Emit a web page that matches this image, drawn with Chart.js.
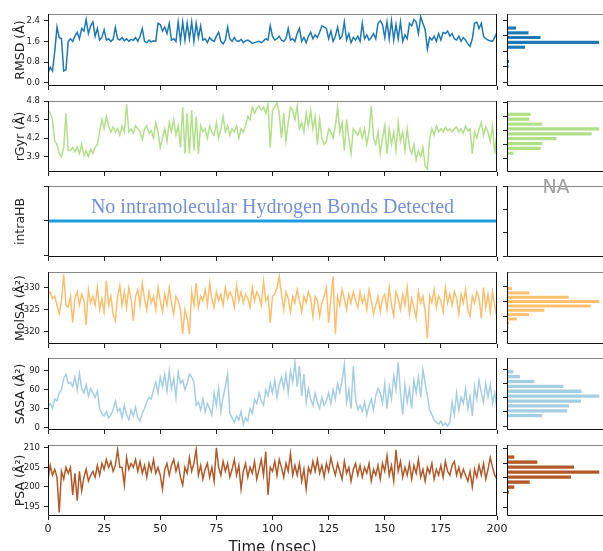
<!DOCTYPE html>
<html lang="en">
<head>
  <meta charset="UTF-8">
  <title>Trajectory analysis</title>
  <script src="https://cdn.jsdelivr.net/npm/chart.js"></script>
  <style>
    body { margin: 0; background: #ffffff; overflow: hidden; }
    #wrap { position: relative; width: 603px; height: 551px; overflow: hidden; }
    #wrap canvas { position: absolute; }
  </style>
</head>
<body>
<div id="wrap"></div>

<script>
  // time grid, one sample per ns
  const timeNs = Array.from({ length: 201 }, (_, i) => i);
  const timeTicks = [0, 25, 50, 75, 100, 125, 150, 175, 200];

  const rmsd = [0.35, 0.6, 0.45, 1.2, 2.15, 1.75, 1.7, 0.45, 0.5, 1.6,
    1.7, 1.6, 1.8, 1.95, 1.7, 2.1, 2.0, 2.45, 1.9, 2.2,
    2.35, 1.8, 2.1, 1.65, 1.75, 2.05, 1.65, 1.7, 1.6, 1.68,
    2.15, 1.7, 1.65, 1.75, 1.62, 1.7, 1.6, 1.68, 1.64, 1.75,
    1.6, 1.8, 2.1, 1.6, 1.55, 1.65, 1.58, 1.62, 1.6, 2.3,
    2.25, 2.0, 2.15, 1.9, 2.3, 1.65, 1.7, 1.6, 2.35, 1.6,
    2.35, 1.65, 2.3, 1.7, 2.35, 1.6, 2.3, 1.75, 2.2, 1.65,
    1.7, 1.55, 1.75, 1.65, 1.6, 1.8, 1.95, 1.6, 1.5, 1.65,
    2.15, 1.7, 1.6, 1.75, 1.62, 1.6, 1.68, 1.55, 1.62, 1.65,
    1.6, 1.52, 1.55, 1.58, 1.6, 1.55, 1.62, 1.7, 1.65, 2.2,
    1.8, 1.65, 1.7, 1.8, 1.65, 1.6, 1.7, 2.1, 1.65, 1.7,
    1.6, 1.9, 2.1, 1.6, 1.75, 1.55, 1.8, 1.95, 1.7, 1.85,
    1.75, 1.95, 2.2, 2.15, 2.1, 1.7, 2.0, 1.6, 1.8, 2.15,
    1.7, 1.8, 2.35, 1.65, 1.9, 1.55, 1.75, 1.65, 1.8, 1.6,
    2.3, 1.7, 1.85, 1.65, 1.75, 1.9, 1.7, 2.3, 2.4, 2.25,
    1.75, 2.35, 1.7, 2.4, 1.65, 2.25, 1.7, 2.35, 1.6, 1.85,
    1.7, 2.3, 2.2, 2.45, 2.35, 1.9, 2.55, 2.3, 2.05, 1.3,
    1.75, 1.65, 1.8, 1.6, 1.9, 1.65, 1.95, 1.9, 2.0, 1.8,
    1.9, 1.7, 1.65, 1.8, 1.6, 1.75, 1.65, 1.5, 1.4, 1.7,
    2.3, 2.35, 2.1, 2.3, 1.8, 1.7, 1.65, 1.62, 1.6, 1.75, 1.95];

  const rgyr = [4.65, 4.6, 4.5, 4.15, 4.1, 3.95, 3.9, 4.05, 4.6, 4.0,
    4.0, 4.05, 3.98, 4.05, 3.95, 4.1, 3.92, 4.0, 3.9, 4.02,
    3.95, 4.05, 4.1, 4.3, 4.5, 4.35, 4.55, 4.4, 4.3, 4.38,
    4.3, 4.35, 4.25, 4.4, 4.3, 4.75, 4.3, 4.35, 4.28, 4.4,
    4.35, 4.3, 4.18, 4.35, 4.4, 4.28, 4.32, 4.2, 4.45, 4.3,
    4.05, 4.2, 4.35, 4.15, 4.45, 4.3, 4.5, 4.25, 4.4, 4.05,
    4.7, 3.95, 4.6, 3.95, 4.65, 4.0, 4.55, 3.95, 4.4, 4.3,
    4.35, 4.2, 4.4, 4.3, 4.25, 4.45, 4.2, 4.35, 4.55, 4.3,
    4.4, 4.25, 4.35, 4.3, 4.4, 4.2, 4.35, 4.3, 4.4, 4.55,
    4.5, 4.7, 4.6, 4.68, 4.72, 4.65, 4.7, 4.6, 4.75, 4.05,
    4.65, 4.7, 4.78, 4.6, 4.2, 4.6, 4.15, 4.45, 4.7, 4.65,
    4.5, 4.72, 4.35, 4.45, 4.3, 4.6, 4.4, 4.65, 4.35, 4.55,
    4.1, 4.5, 4.2, 4.1, 4.15, 4.35, 4.3, 4.2, 4.4, 4.7,
    4.3, 4.45, 4.0, 4.5, 4.2, 3.95, 4.35, 4.3, 4.25, 4.35,
    4.2, 4.35, 4.1, 4.3, 4.72, 4.2, 4.1, 4.3, 3.95, 4.2,
    4.4, 3.95, 4.35, 4.1, 4.3, 4.0, 4.45, 4.15, 4.3, 4.0,
    4.35, 4.05, 3.95, 4.1, 3.85, 4.0, 3.9, 4.05, 3.75, 3.7,
    4.2, 4.35, 4.25, 4.4, 4.3, 4.35, 4.3, 4.38, 4.32, 4.35,
    4.3, 4.35, 4.38, 4.3, 4.35, 4.28, 4.4, 4.32, 4.35, 3.95,
    4.3, 4.2, 4.35, 4.45, 4.25, 4.38, 4.3, 4.15, 4.4, 3.95, 4.3];

  // no H-bonds at any frame
  const hbTime = [0, 200];
  const hbCount = [0, 0];

  const molsa = [328.5, 329, 327.5, 328, 326, 324, 327, 333, 326, 325.5,
    328, 322, 327.5, 329, 326, 328.5, 327, 321.5, 329.5, 326.5,
    328, 326, 330, 325, 327.5, 324.5, 331.5, 326, 328, 324,
    322.5, 328, 330.5, 326, 329, 325.5, 330, 327.5, 322.5, 328,
    329.5, 326, 331, 327.5, 325, 329, 326.5, 328, 325, 330,
    327, 324.5, 328.5, 326, 330, 326.5, 324, 328, 327, 325,
    319.5, 325, 323, 319.5, 329, 326, 331, 325.5, 328, 327,
    329.5, 326, 331, 327.5, 325.5, 329, 327, 328.5, 326, 330,
    327.5, 329, 328, 325.5, 330.5, 327, 329, 326.5, 328.5, 327.5,
    325.5, 330, 327, 329, 328, 326, 331.5, 327, 328, 322,
    328, 328.5, 330, 332.5, 328.5, 325, 329, 327.5, 324.5, 328,
    326.5, 329.5, 327, 324.5, 328, 326.5, 329, 327.5, 323.5, 328,
    327, 323.5, 326.5, 328, 330, 322, 327.5, 332.5, 319.5, 328,
    326, 329.5, 327.5, 325, 328.5, 326.5, 329, 327, 325.5, 329,
    326.5, 328, 325, 329.5, 327, 324, 326, 328, 324.5, 327.5,
    328.5, 325, 330, 326, 323.5, 329, 327.5, 325, 328.5, 326,
    330, 324, 327.5, 325.5, 323, 329, 326.5, 328, 324.5, 318.5,
    328, 326.5, 329.5, 325.5, 328, 327, 324.5, 330, 326.5, 328.5,
    326, 329, 327.5, 324, 328.5, 326.5, 329.5, 325, 323.5, 328,
    326.5, 329, 327.5, 323, 330, 325.5, 328.5, 324.5, 329, 326, 323];

  const sasa = [33, 38, 30, 45, 42, 55, 60, 78, 85, 70,
    72, 65, 80, 60, 86, 62, 55, 68, 50, 62,
    55, 48, 58, 30, 22, 18, 25, 15, 20, 28,
    42, 25, 30, 15, 35, 20, 12, 28, 18, 32,
    15, 10, 22, 30, 40, 48, 45, 60, 72, 55,
    80, 65, 85, 58, 90, 62, 78, 48, 88, 70,
    75, 60, 70, 85, 80, 72, 35, 40, 28, 45,
    25, 38, 30, 20, 55, 35, 62, 25, 48, 65,
    85, 22, 15, 8, 18, 12, 25, 5, 15, 10,
    30, 22, 45, 38, 55, 42, 35, 60, 50, 70,
    55, 75, 48, 68, 80, 62, 85, 55, 90, 72,
    104, 65, 98, 50, 85, 40, 62, 45, 35, 55,
    40, 30, 48, 35, 42, 55, 38, 60, 45, 70,
    55, 75, 100, 40, 60, 30, 98, 45, 28, 35,
    25, 40, 20, 35, 45, 28, 50, 62, 55, 38,
    70, 30, 65, 45, 82, 60, 104, 55, 20, 68,
    40, 62, 30, 75, 55, 80, 48, 92, 70, 50,
    28, 20, 12, 8, 5, 10, 3, 7, 2, 8,
    40, 20, 55, 28, 48, 38, 62, 30, 50, 18,
    65, 45, 75, 55, 40, 70, 48, 68, 38, 55, 28];

  const psa = [202, 205.5, 203, 204.5, 202.5, 193.5, 204, 202, 205, 203.5,
    205, 198, 203.5, 196.5, 204, 199, 202.5, 204.5, 201.5, 203,
    204, 202.5, 205.5, 203, 206, 204.5, 207, 205, 206.5, 204,
    205.5, 209.5, 205, 205, 200.5, 207.5, 204.5, 206, 205, 207,
    204, 206.5, 203.5, 205.5, 202.5, 206, 204, 207, 203.5, 205,
    203, 199.5, 204.5, 206, 203, 205.5, 207, 204, 206, 202.5,
    200.5, 205, 203.5, 207.5, 204, 206, 209.5, 203, 205.5, 202,
    204.5, 206, 202.5, 205, 201.5, 210, 205, 203, 206.5, 204,
    206, 202.5, 204.5, 207, 203, 205.5, 199.5, 204, 206, 202.5,
    205, 203.5, 206.5, 202, 204.5, 207, 203, 209, 198, 205,
    204, 206.5, 203, 207, 205, 202.5, 206, 204, 208.5, 203,
    205.5, 203, 206, 201.5, 204.5, 199.5, 205, 203.5, 206.5, 204,
    207, 203.5, 205.5, 202.5, 206, 204, 207.5, 205, 203, 206,
    204, 202, 206.5, 203.5, 205, 201.5, 204.5, 206, 203, 205.5,
    202.5, 205, 203.5, 206, 201.5, 204.5, 203, 205.5, 202, 206,
    204, 208, 203, 205.5, 201.5, 209.5, 204, 206.5, 202.5, 205,
    203, 206, 202, 205.5, 203.5, 207, 202.5, 204.5, 201.5, 205,
    203.5, 206, 202, 204.5, 203, 205.5, 202.5, 206.5, 204, 203,
    205.5, 206.5, 203, 205, 202.5, 204.5, 203, 201.5, 204, 200,
    204.5, 202.5, 205.5, 203, 206, 202, 204.5, 207.5, 205, 203, 202];

  // histograms (bin centre, relative count)
  const rmsdBins = [2.40, 2.15, 1.91, 1.66, 1.41, 1.17, 0.92, 0.67, 0.42];
  const rmsdCounts = [9, 21.5, 33.5, 92, 18, 0, 0, 2, 1.5];
  const rgyrBins = [4.705, 4.60, 4.495, 4.39, 4.285, 4.18, 4.075, 3.97, 3.865];
  const rgyrCounts = [23.7, 22.3, 35.3, 92.3, 84.7, 49.7, 35.3, 33.7, 6.3];
  const molsaBins = [331.95, 330.48, 329.0, 327.53, 326.05, 324.58, 323.1, 321.63, 320.15, 318.68];
  const molsaCounts = [5, 22.3, 61.7, 92.3, 83.7, 37.3, 22, 10, 2, 1.5];
  const sasaBins = [100.6, 90.2, 79.8, 69.4, 59.0, 48.6, 38.2, 27.8, 17.4, 7.0];
  const sasaCounts = [6.3, 13, 27.3, 56.3, 74.7, 92.3, 74, 62, 60.3, 35.3];
  const psaBins = [209.6, 207.9, 206.2, 204.5, 202.8, 201.1, 199.4, 197.7];
  const psaCounts = [7.3, 30.3, 67, 92.3, 64, 22.7, 7.3, 2];

  const rmsdTicks = [0, 0.8, 1.6, 2.4];
  const rgyrTicks = [3.9, 4.2, 4.5, 4.8];
  const hbTicks = [-1, 0, 1];
  const molsaTicks = [320, 325, 330];
  const sasaTicks = [0, 30, 60, 90];
  const psaTicks = [195, 200, 205, 210];

  Chart.defaults.font.family = "'DejaVu Sans', sans-serif";
  Chart.defaults.font.size = 11;
  Chart.defaults.color = '#222';
  Chart.defaults.animation = false;

  // matplotlib style box round the axes
  const framePlugin = {
    id: 'frame',
    afterDatasetsDraw(chart) {
      const a = chart.chartArea, c = chart.ctx;
      c.save();
      c.lineWidth = 1;
      c.strokeStyle = '#888';
      c.beginPath(); c.moveTo(a.left, a.top + 0.5); c.lineTo(a.right, a.top + 0.5); c.stroke();
      c.strokeStyle = '#111';
      c.beginPath();
      c.moveTo(a.left + 0.5, a.top);
      c.lineTo(a.left + 0.5, a.bottom - 0.5);
      c.lineTo(a.right - 0.5, a.bottom - 0.5);
      c.lineTo(a.right - 0.5, a.top);
      c.stroke();
      c.restore();
    }
  };

  const notePlugin = {
    id: 'note',
    afterDraw(chart, args, o) {
      if (!o.text) return;
      const a = chart.chartArea, c = chart.ctx;
      c.save();
      c.font = o.font;
      c.fillStyle = o.color;
      c.textAlign = 'center';
      c.textBaseline = 'alphabetic';
      c.fillText(o.text, (a.left + a.right) / 2, a.top + o.dy);
      c.restore();
    }
  };

  const wrap = document.getElementById('wrap');
  function addCanvas(left, top, w, h) {
    const cv = document.createElement('canvas');
    cv.width = w; cv.height = h;
    cv.style.left = left + 'px'; cv.style.top = top + 'px';
    cv.style.width = w + 'px'; cv.style.height = h + 'px';
    wrap.appendChild(cv);
    return cv;
  }

  function tickScale(list) {
    return s => { s.ticks = list.map(v => ({ value: v })); };
  }

  const tickGrid = { drawOnChartArea: false, drawTicks: true, tickLength: 4, color: '#222' };

  function seriesPanel(p) {
    const h = p.bottom - p.top;
    const last = !!p.last;
    const cv = addCanvas(0, p.top - 10, 520, h + 10 + (last ? 43 : 10));
    new Chart(cv, {
      type: 'line',
      data: {
        datasets: [{
          data: p.y.map((v, i) => ({ x: p.x[i], y: v })),
          borderColor: p.color,
          borderWidth: p.width || 1.5,
          pointRadius: 0,
          tension: 0
        }]
      },
      options: {
        responsive: false,
        layout: { padding: { top: 10, bottom: last ? 0 : 4, left: 0, right: 23 } },
        plugins: { legend: { display: false }, tooltip: { enabled: false }, note: p.note || {} },
        scales: {
          x: {
            type: 'linear', min: 0, max: 200,
            afterBuildTicks: tickScale(timeTicks),
            afterFit: s => { s.height = last ? 43 : 6; },
            border: { display: false },
            grid: tickGrid,
            ticks: { display: last, autoSkip: false, maxRotation: 0, padding: 3 },
            title: { display: last, text: 'Time (nsec)', font: { size: 15 }, padding: { top: 0, bottom: 1.5 } }
          },
          y: {
            type: 'linear', min: p.min, max: p.max,
            afterBuildTicks: tickScale(p.ticks),
            afterFit: s => { s.width = 48; },
            border: { display: false },
            grid: tickGrid,
            ticks: { display: !p.noLabels, padding: 4, font: { size: 8.5 }, callback: p.fmt },
            title: { display: true, text: p.label, font: { size: 12.5 }, padding: { top: 13, bottom: 0 } }
          }
        }
      },
      plugins: [framePlugin, notePlugin]
    });
  }

  function histPanel(p) {
    const h = p.bottom - p.top;
    const cv = addCanvas(497, p.top - 10, 110, h + 14);
    const ds = p.bins ? [{
      data: p.bins.map((b, i) => ({ x: p.counts[i], y: b })),
      backgroundColor: p.color,
      barPercentage: 0.68,
      categoryPercentage: 1
    }] : [];
    new Chart(cv, {
      type: 'bar',
      data: { datasets: ds },
      options: {
        indexAxis: 'y',
        responsive: false,
        layout: { padding: { top: 10, bottom: 4, left: 0, right: 2 } },
        plugins: { legend: { display: false }, tooltip: { enabled: false }, note: p.note || {} },
        scales: {
          x: { type: 'linear', min: 0, max: 98, display: false },
          y: {
            type: 'linear', min: p.min, max: p.max,
            afterBuildTicks: tickScale(p.ticks),
            afterFit: s => { s.width = 10; },
            border: { display: false },
            grid: tickGrid,
            ticks: { display: false }
          }
        }
      },
      plugins: [framePlugin, notePlugin]
    });
  }

  const fmt1 = v => v.toFixed(1);
  const fmt0 = v => v.toFixed(0);

  seriesPanel({ top: 14, bottom: 86, min: -0.13, max: 2.66, ticks: rmsdTicks, fmt: fmt1,
    x: timeNs, y: rmsd, color: '#1f78b4', label: 'RMSD (Å)' });
  histPanel({ top: 14, bottom: 86, min: -0.13, max: 2.66, ticks: rmsdTicks,
    bins: rmsdBins, counts: rmsdCounts, color: '#1f78b4' });

  seriesPanel({ top: 101, bottom: 172, min: 3.653, max: 4.8, ticks: rgyrTicks, fmt: fmt1,
    x: timeNs, y: rgyr, color: '#b2df8a', label: 'rGyr (Å)' });
  histPanel({ top: 101, bottom: 172, min: 3.653, max: 4.8, ticks: rgyrTicks,
    bins: rgyrBins, counts: rgyrCounts, color: '#b2df8a' });

  seriesPanel({ top: 186, bottom: 257, min: -1.03, max: 1, ticks: hbTicks, noLabels: true,
    x: hbTime, y: hbCount, color: '#1f9be0', width: 3, label: 'intraHB',
    note: { text: 'No intramolecular Hydrogen Bonds Detected', font: "20px 'Liberation Serif', serif", color: '#7291d6', dy: 27 } });
  histPanel({ top: 186, bottom: 257, min: -1.03, max: 1, ticks: hbTicks,
    note: { text: 'NA', font: "19px 'DejaVu Sans', sans-serif", color: '#a0a0a0', dy: 7 } });

  seriesPanel({ top: 272, bottom: 344, min: 317.2, max: 333.5, ticks: molsaTicks, fmt: fmt0,
    x: timeNs, y: molsa, color: '#fdbf6f', label: 'MolSA (Å²)' });
  histPanel({ top: 272, bottom: 344, min: 317.2, max: 333.5, ticks: molsaTicks,
    bins: molsaBins, counts: molsaCounts, color: '#fdbf6f' });

  seriesPanel({ top: 358, bottom: 430, min: -4.3, max: 110.7, ticks: sasaTicks, fmt: fmt0,
    x: timeNs, y: sasa, color: '#a6cee3', label: 'SASA (Å²)' });
  histPanel({ top: 358, bottom: 430, min: -4.3, max: 110.7, ticks: sasaTicks,
    bins: sasaBins, counts: sasaCounts, color: '#a6cee3' });

  seriesPanel({ top: 445, bottom: 516, min: 192.6, max: 210.7, ticks: psaTicks, fmt: fmt0,
    x: timeNs, y: psa, color: '#b15928', label: 'PSA (Å²)', last: true });
  histPanel({ top: 445, bottom: 516, min: 192.6, max: 210.7, ticks: psaTicks,
    bins: psaBins, counts: psaCounts, color: '#b15928' });
</script>
</body>
</html>
